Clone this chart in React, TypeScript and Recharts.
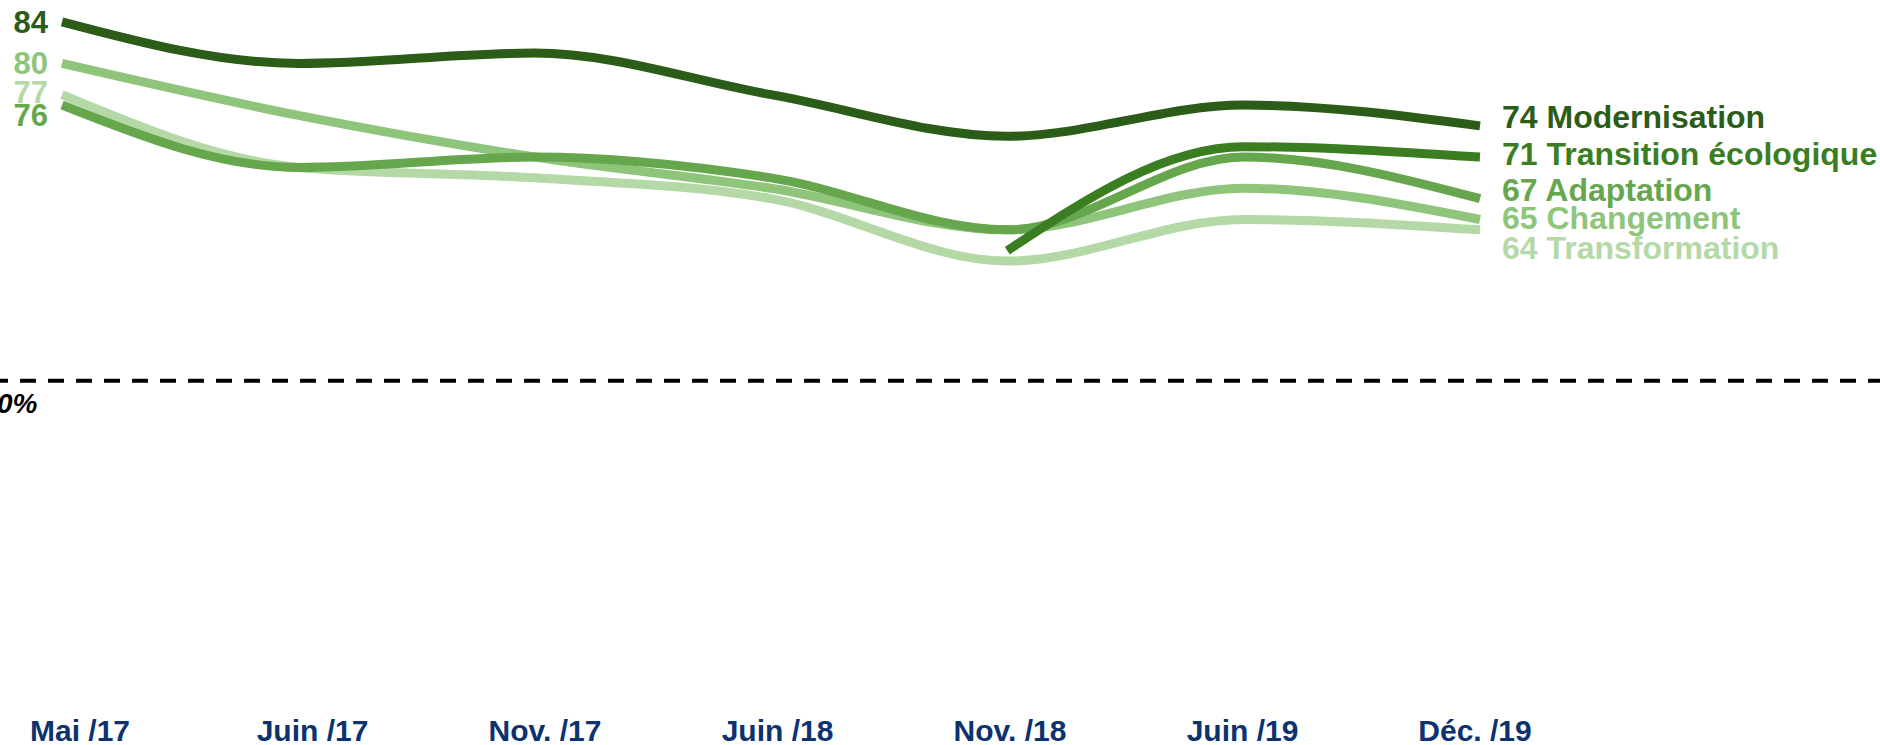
import React from 'react'
import { LineChart, Line, XAxis, YAxis, ReferenceLine, LabelList } from 'recharts'

const MONTHS = ['Mai /17', 'Juin /17', 'Nov. /17', 'Juin /18', 'Nov. /18', 'Juin /19', 'Déc. /19']
const MODERNISATION = [84, 80, 81, 77, 73, 76, 74]
const TRANSITION = [null, null, null, null, 62, 72, 71]
const ADAPTATION = [76, 70, 71, 69, 64, 71, 67]
const CHANGEMENT = [80, 75, 71, 68, 64, 68, 65]
const TRANSFORMATION = [77, 70, 69, 67, 61, 65, 64]
const BASELINE = 49.5

const FONT = '"Liberation Sans", Arial, Helvetica, sans-serif'

// drawn lightest first so the darker lines sit on top
const SERIES = [
  { key: 'transformation', name: 'Transformation', color: '#b4d9a6', values: TRANSFORMATION, startDy: -3, endDy: 18 },
  { key: 'changement', name: 'Changement', color: '#8ec57b', values: CHANGEMENT, startDy: 0, endDy: -1 },
  { key: 'adaptation', name: 'Adaptation', color: '#66a74e', values: ADAPTATION, startDy: 10, endDy: -9 },
  { key: 'transition', name: 'Transition écologique', color: '#3b7e22', values: TRANSITION, startDy: 0, endDy: -3 },
  { key: 'modernisation', name: 'Modernisation', color: '#2b5c18', values: MODERNISATION, startDy: 0, endDy: -9 },
]

const data = MONTHS.map((month, i) => {
  const row: any = { month }
  SERIES.forEach((s) => { row[s.key] = s.values[i] })
  return row
})

function makeLabel(s: typeof SERIES[number]) {
  return (props: any) => {
    const { x, y, value, index } = props
    if (value == null || x == null || y == null) return null
    const last = index === MONTHS.length - 1
    const first = index === 0
    if (!first && !last) return null
    if (first) {
      return (
        <text x={x - 14} y={y + s.startDy + 11} textAnchor="end" fill={s.color}
          style={{ fontFamily: FONT, fontWeight: 700, fontSize: 31 }}>
          {value}
        </text>
      )
    }
    return (
      <text x={x + 22} y={y + s.endDy + 11} textAnchor="start" fill={s.color}
        style={{ fontFamily: FONT, fontWeight: 700, fontSize: 32 }}>
        {`${value} ${s.name}`}
      </text>
    )
  }
}

function ZeroLabel(props: any) {
  const vb = props.viewBox || {}
  return (
    <text x={(vb.x ?? 0) - 3} y={(vb.y ?? 0) + 32} fill="#000"
      style={{ fontFamily: FONT, fontWeight: 700, fontStyle: 'italic', fontSize: 28 }}>
      0%
    </text>
  )
}

function MonthTick({ x, y, payload }: any) {
  return (
    <text x={x} y={y + 33} textAnchor="middle" fill="#0c3270"
      style={{ fontFamily: FONT, fontWeight: 700, fontSize: 30 }}>
      {payload.value}
    </text>
  )
}

export default function App() {
  return (
    <div style={{ width: 1880, height: 745, background: '#fff' }}>
      <style>{'body{margin:0}'}</style>
      <LineChart width={1880} height={745} data={data} margin={{ top: 0, right: 0, bottom: 0, left: 0 }}>
        <XAxis xAxisId="pts" dataKey="month" hide padding={{ left: 62, right: 400 }} />
        <XAxis xAxisId="labels" dataKey="month" height={45} axisLine={false} tickLine={false}
          padding={{ left: 80, right: 405 }} tick={<MonthTick />} interval={0} />
        <YAxis hide domain={[18.8, 86.1]} />
        <ReferenceLine xAxisId="pts" y={BASELINE} stroke="#000" strokeWidth={4}
          strokeDasharray="16 12" strokeDashoffset={8} label={<ZeroLabel />} />
        {SERIES.map((s) => (
          <Line key={s.key} xAxisId="pts" type="monotone" dataKey={s.key} name={s.name}
            stroke={s.color} strokeWidth={9} dot={false} activeDot={false}
            connectNulls={false} isAnimationActive={false}>
            <LabelList dataKey={s.key} content={makeLabel(s)} />
          </Line>
        ))}
      </LineChart>
    </div>
  )
}
